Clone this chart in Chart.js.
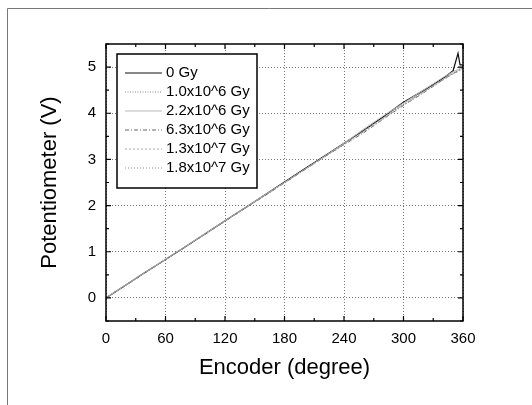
<!DOCTYPE html>
<html><head><meta charset="utf-8">
<script src="https://cdn.jsdelivr.net/npm/chart.js@4/dist/chart.umd.min.js"></script>
<style>html,body{margin:0;padding:0;background:#fff;}#wrap{position:relative;width:532px;height:405px;}</style>
</head><body><div id="wrap"><canvas id="c" width="532" height="405"></canvas></div>
<script>
const encoderDeg = [0,20,40,60,80,100,120,140,160,180,200,220,240,260,280,300,320,340,350,355,357,360];
const seriesLabels = ["0 Gy","1.0x10^6 Gy","2.2x10^6 Gy","6.3x10^6 Gy","1.3x10^7 Gy","1.8x10^7 Gy"];
const v0Gy   = [0,0.28,0.56,0.83,1.11,1.39,1.67,1.95,2.23,2.51,2.79,3.07,3.35,3.63,3.93,4.24,4.49,4.76,4.92,5.30,5.05,5.05];
const v1p0e6 = [0,0.28,0.55,0.83,1.11,1.38,1.66,1.94,2.22,2.50,2.78,3.06,3.33,3.64,3.90,4.20,4.46,4.74,4.88,4.93,4.96,5.00];
const v2p2e6 = [0,0.28,0.56,0.84,1.11,1.39,1.67,1.95,2.23,2.50,2.78,3.06,3.35,3.66,3.95,4.22,4.50,4.78,4.90,4.95,4.98,5.02];
const v6p3e6 = [0,0.27,0.55,0.83,1.10,1.38,1.66,1.94,2.21,2.49,2.77,3.05,3.32,3.58,3.88,4.17,4.44,4.73,4.86,4.92,4.95,4.98];
const v1p3e7 = [0,0.28,0.56,0.83,1.11,1.39,1.67,1.94,2.22,2.50,2.78,3.05,3.33,3.60,3.89,4.18,4.45,4.72,4.85,4.90,4.93,4.96];
const v1p8e7 = [0,0.28,0.55,0.83,1.11,1.38,1.66,1.94,2.22,2.49,2.77,3.05,3.33,3.62,3.91,4.19,4.47,4.75,4.87,4.91,4.94,4.97];
const xTicks = [0,60,120,180,240,300,360];
const yTicks = [0,1,2,3,4,5];
const xMinor = [30,90,150,210,270,330];
const yMinor = [-0.5,0.5,1.5,2.5,3.5,4.5,5.5];

const allValues = [v0Gy,v1p0e6,v2p2e6,v6p3e6,v1p3e7,v1p8e7];
const styles = [
  {color:'#111', dash:[], width:1.2},
  {color:'#888', dash:[1,1.5], width:1},
  {color:'#bbb', dash:[], width:1},
  {color:'#666', dash:[4,2,1,2], width:1},
  {color:'#aaa', dash:[2,2], width:1},
  {color:'#999', dash:[1,2], width:1}
];
const datasets = allValues.map((vals,i)=>({
  label: seriesLabels[i],
  data: encoderDeg.map((x,j)=>({x:x,y:vals[j]})),
  borderColor: styles[i].color,
  borderDash: styles[i].dash,
  borderWidth: styles[i].width,
  pointRadius: 0,
  tension: 0,
  fill: false
})).reverse();

const FONT = "'Liberation Sans', Arial, sans-serif";

const framePlugin = {
  id:'frame',
  beforeDraw(chart){
    const ctx = chart.ctx;
    ctx.save();
    ctx.strokeStyle = '#777';
    ctx.lineWidth = 1;
    ctx.beginPath();
    ctx.moveTo(7.5,405); ctx.lineTo(7.5,8.5); ctx.lineTo(532,8.5);
    ctx.stroke();
    ctx.restore();
  },
  afterDatasetsDraw(chart){
    const {ctx, chartArea:a, scales:{x,y}} = chart;
    ctx.save();
    ctx.strokeStyle = '#000';
    ctx.lineWidth = 1.5;
    ctx.strokeRect(a.left, a.top, a.right-a.left, a.bottom-a.top);
    ctx.lineWidth = 1.2;
    ctx.beginPath();
    const tick = (vals, len, isX) => {
      vals.forEach(v=>{
        if(isX){
          const px = x.getPixelForValue(v);
          ctx.moveTo(px,a.bottom); ctx.lineTo(px,a.bottom-len);
          ctx.moveTo(px,a.top); ctx.lineTo(px,a.top+len);
        } else {
          const py = y.getPixelForValue(v);
          ctx.moveTo(a.left,py); ctx.lineTo(a.left+len,py);
          ctx.moveTo(a.right,py); ctx.lineTo(a.right-len,py);
        }
      });
    };
    tick(xTicks,5,true); tick(xMinor,3,true);
    tick(yTicks,5,false); tick(yMinor,3,false);
    ctx.stroke();

    // legend box
    const lx = 117, ly = 54, lw = 140, lh = 134;
    ctx.fillStyle = '#fff';
    ctx.fillRect(lx,ly,lw,lh);
    ctx.lineWidth = 1.5;
    ctx.strokeStyle = '#000';
    ctx.strokeRect(lx,ly,lw,lh);
    ctx.font = '15px ' + FONT;
    ctx.textBaseline = 'middle';
    ctx.textAlign = 'left';
    seriesLabels.forEach((lab,i)=>{
      const yy = ly + 19 + i*19;
      const st = styles[i];
      ctx.beginPath();
      ctx.strokeStyle = st.color;
      ctx.lineWidth = st.width;
      ctx.setLineDash(st.dash);
      ctx.moveTo(125,yy); ctx.lineTo(162,yy);
      ctx.stroke();
      ctx.setLineDash([]);
      ctx.fillStyle = '#000';
      ctx.fillText(lab, 166, yy);
    });
    ctx.restore();
  }
};

new Chart(document.getElementById('c'), {
  type:'line',
  data:{datasets},
  options:{
    responsive:false,
    animation:false,
    events:[],
    layout:{padding:{top:44,right:69,left:0,bottom:0}},
    plugins:{legend:{display:false},tooltip:{enabled:false}},
    scales:{
      x:{
        type:'linear', min:0, max:360,
        afterFit(s){ s.height = 84; },
        afterBuildTicks(s){ s.ticks = xTicks.map(v=>({value:v})); },
        grid:{color:'#777', lineWidth:1, drawTicks:false},
        border:{display:false, dash:[1,2]},
        ticks:{padding:9, color:'#000', font:{family:FONT,size:15}, maxRotation:0},
        title:{display:true, text:'Encoder (degree)', color:'#000', font:{family:FONT,size:22}, padding:{top:4,bottom:24}}
      },
      y:{
        type:'linear', min:-0.5, max:5.5,
        afterFit(s){ s.width = 106; },
        afterBuildTicks(s){ s.ticks = yTicks.map(v=>({value:v})); },
        grid:{color:'#777', lineWidth:1, drawTicks:false},
        border:{display:false, dash:[1,2]},
        ticks:{padding:10, color:'#000', font:{family:FONT,size:15}},
        title:{display:true, text:'Potentiometer (V)', color:'#000', font:{family:FONT,size:22}, padding:{top:37,bottom:4}}
      }
    }
  },
  plugins:[framePlugin]
});
</script></body></html>
